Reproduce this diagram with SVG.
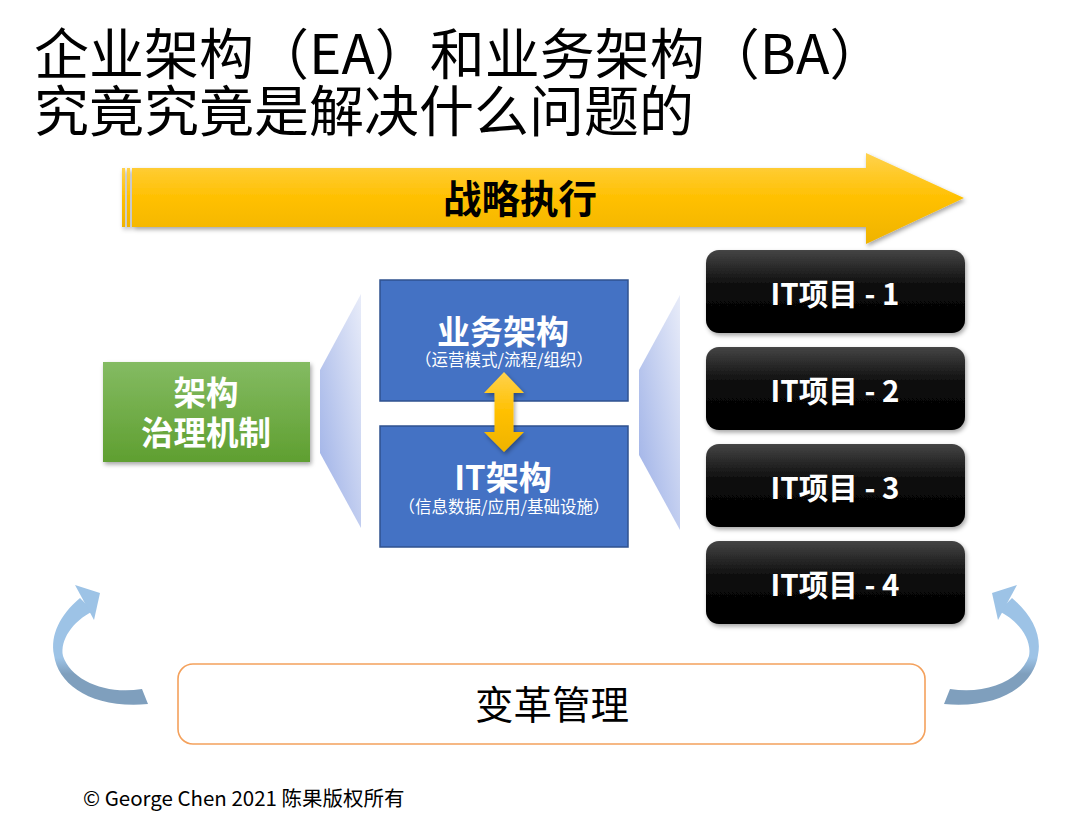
<svg xmlns="http://www.w3.org/2000/svg" xmlns:xlink="http://www.w3.org/1999/xlink" width="1080" height="825" viewBox="0 0 1080 825">
  <defs>
    <style>
      .cjk { font-family: "Noto Sans CJK SC", "Liberation Sans", sans-serif; }
      .title { font-size: 55px; fill: #000; }
      .wb { fill: #fff; font-weight: 700; }
      .sub { fill: #fff; font-size: 16.5px; }
      .it { fill: #fff; font-weight: 700; font-size: 29.5px; }
      .itbox { fill: url(#gBlack); filter: url(#shadow); }
      .bluebox { fill: #4472c4; stroke: #2f528f; stroke-width: 1.5; }
    </style>
    <filter id="shadow" x="-10%" y="-10%" width="125%" height="130%">
      <feDropShadow dx="1.5" dy="2.5" stdDeviation="2" flood-color="#000" flood-opacity="0.35"/>
    </filter>
    <linearGradient id="gYellow" x1="0" y1="0" x2="0" y2="1">
      <stop offset="0" stop-color="#ffd24d"/>
      <stop offset="0.5" stop-color="#ffc000"/>
      <stop offset="1" stop-color="#efb300"/>
    </linearGradient>
    <linearGradient id="gGreen" x1="0" y1="0" x2="0" y2="1">
      <stop offset="0" stop-color="#84bb62"/>
      <stop offset="1" stop-color="#5f9f30"/>
    </linearGradient>
    <linearGradient id="gBlack" x1="0" y1="0" x2="0" y2="1">
      <stop offset="0" stop-color="#454545"/>
      <stop offset="0.45" stop-color="#0a0a0a"/>
      <stop offset="1" stop-color="#000"/>
    </linearGradient>
    <linearGradient id="gTrap" x1="0" y1="1" x2="1" y2="0">
      <stop offset="0" stop-color="#9aaee6"/>
      <stop offset="1" stop-color="#e8ecf9"/>
    </linearGradient>
    <linearGradient id="gCurve" gradientUnits="userSpaceOnUse" x1="0" y1="658" x2="0" y2="674">
      <stop offset="0" stop-color="#9dc3e6"/>
      <stop offset="1" stop-color="#7f9fbd"/>
    </linearGradient>
    <g id="curveArrow">
      <path d="M 80,598 C 60,615 50,635 54,655 C 58,685 92,709 148,704 L 142,689 C 105,695 71,680 63,656 C 60,640 72,622 93,611 Z" fill="url(#gCurve)"/>
      <path d="M 75,585 L 100,593 L 94,620 Z" fill="#9dc3e6"/>
    </g>
  </defs>

  <g id="title" class="cjk title">
    <text x="34" y="74">企业架构（EA）和业务架构（BA）</text>
    <text x="34" y="131">究竟究竟是解决什么问题的</text>
  </g>

  <g id="strategy-arrow">
    <g filter="url(#shadow)">
      <rect x="122" y="168" width="3" height="59" fill="url(#gYellow)"/>
      <rect x="127" y="168" width="3" height="59" fill="url(#gYellow)"/>
      <path d="M 132,168 L 866,168 L 866,153 L 964,198 L 866,244 L 866,227 L 132,227 Z" fill="url(#gYellow)"/>
    </g>
    <text x="520" y="213" text-anchor="middle" class="cjk" font-size="38.5" font-weight="700" fill="#000">战略执行</text>
  </g>

  <g id="governance">
    <rect x="103" y="362" width="207" height="100" fill="url(#gGreen)" filter="url(#shadow)"/>
    <text x="206" y="405" text-anchor="middle" class="cjk wb" font-size="32.5">架构</text>
    <text x="206" y="445" text-anchor="middle" class="cjk wb" font-size="32.5">治理机制</text>
  </g>

  <g id="left-trapezoid">
    <polygon points="320,370 361,294 361,528 320,453" fill="url(#gTrap)"/>
  </g>

  <g id="business-arch">
    <rect x="380" y="280" width="248" height="121" class="bluebox"/>
    <text x="503" y="344" text-anchor="middle" class="cjk wb" font-size="33">业务架构</text>
    <text x="504" y="366" text-anchor="middle" class="cjk sub">（运营模式/流程/组织）</text>
  </g>

  <g id="it-arch">
    <rect x="380" y="426" width="248" height="121" class="bluebox"/>
    <text x="503" y="490" text-anchor="middle" class="cjk wb" font-size="33">IT架构</text>
    <text x="504" y="513" text-anchor="middle" class="cjk sub">（信息数据/应用/基础设施）</text>
  </g>

  <g id="right-trapezoid">
    <polygon points="639,370 680,295 680,530 639,455" fill="url(#gTrap)"/>
  </g>

  <g id="it-project-1">
    <rect x="706" y="250" width="259" height="83" rx="13" class="itbox"/>
    <text x="835" y="305" text-anchor="middle" class="cjk it">IT项目 - 1</text>
  </g>
  <g id="it-project-2">
    <rect x="706" y="347" width="259" height="83" rx="13" class="itbox"/>
    <text x="835" y="402" text-anchor="middle" class="cjk it">IT项目 - 2</text>
  </g>
  <g id="it-project-3">
    <rect x="706" y="444" width="259" height="83" rx="13" class="itbox"/>
    <text x="835" y="499" text-anchor="middle" class="cjk it">IT项目 - 3</text>
  </g>
  <g id="it-project-4">
    <rect x="706" y="541" width="259" height="83" rx="13" class="itbox"/>
    <text x="835" y="596" text-anchor="middle" class="cjk it">IT项目 - 4</text>
  </g>

  <g id="change-mgmt">
    <rect x="178" y="664" width="747" height="80" rx="15" fill="#fff" stroke="#f4a15c" stroke-width="1.6"/>
    <text x="552" y="719" text-anchor="middle" class="cjk" font-size="38.5" fill="#000">变革管理</text>
  </g>

  <g id="connectors">
    <path d="M 504,372 L 524,393 L 513.5,393 L 513.5,432 L 524,432 L 504,452 L 484,432 L 494.5,432 L 494.5,393 L 484,393 Z" fill="url(#gYellow)" filter="url(#shadow)"/>
    <use xlink:href="#curveArrow" href="#curveArrow"/>
    <use xlink:href="#curveArrow" href="#curveArrow" transform="translate(1092,0) scale(-1,1)"/>
  </g>

  <g id="footer">
    <text x="83" y="806" class="cjk" font-size="20.5" fill="#000">© George Chen 2021 陈果版权所有</text>
  </g>
</svg>
